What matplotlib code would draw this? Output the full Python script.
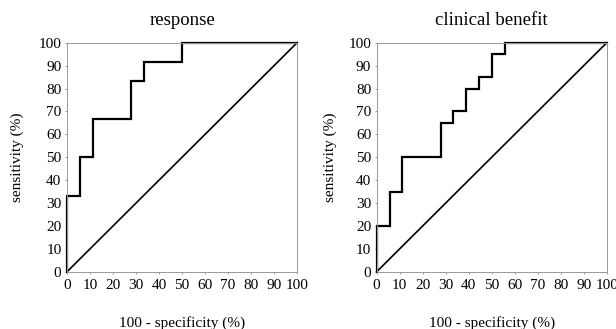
import matplotlib
matplotlib.use("Agg")
import matplotlib.pyplot as plt

plt.rcParams['font.family'] = ['Liberation Serif', 'DejaVu Serif']

# ROC step data (100 - specificity, sensitivity)
resp_x = [0, 0, 5.6, 11.1, 27.8, 33.3, 50, 100]
resp_y = [0, 33.3, 50, 66.7, 83.3, 91.7, 100, 100]

cb_x = [0, 0, 5.6, 11.1, 27.8, 33.3, 38.9, 44.4, 50, 55.6, 100]
cb_y = [0, 20, 35, 50, 65, 70, 80, 85, 95, 100, 100]

titles = ['response', 'clinical benefit']
ticks = list(range(0, 101, 10))

fig = plt.figure(figsize=(6.16, 3.29), dpi=100)
lefts = [0.1088, 0.6115]
ylab_x = [-0.187, -0.173]
panels = [(resp_x, resp_y), (cb_x, cb_y)]

for left, (xs, ys), title, yx in zip(lefts, panels, titles, ylab_x):
    ax = fig.add_axes([left, 0.174, 0.3734, 0.696])
    ax.plot(xs, ys, drawstyle='steps-post', color='black', lw=1.6,
            solid_joinstyle='miter', clip_on=False)
    ax.plot([0, 100], [0, 100], color='black', lw=1.2, clip_on=False)
    ax.set_xlim(0, 100)
    ax.set_ylim(0, 100)
    ax.set_xticks(ticks)
    ax.set_yticks(ticks)
    ax.tick_params(length=1.5, width=0.6, color='#888888', labelsize=11)
    ax.tick_params(axis='y', pad=2.5)
    ax.tick_params(axis='x', pad=4)
    for s in ax.spines.values():
        s.set_color('#999999')
        s.set_linewidth(0.7)
    ax.set_title(title, fontsize=13.5, pad=13)
    ax.set_ylabel('sensitivity (%)', fontsize=11)
    ax.yaxis.set_label_coords(yx, 0.5)
    ax.set_xlabel('100 - specificity (%)', fontsize=11)
    ax.xaxis.set_label_coords(0.5, -0.195)

fig.savefig('out.png', dpi=100)
